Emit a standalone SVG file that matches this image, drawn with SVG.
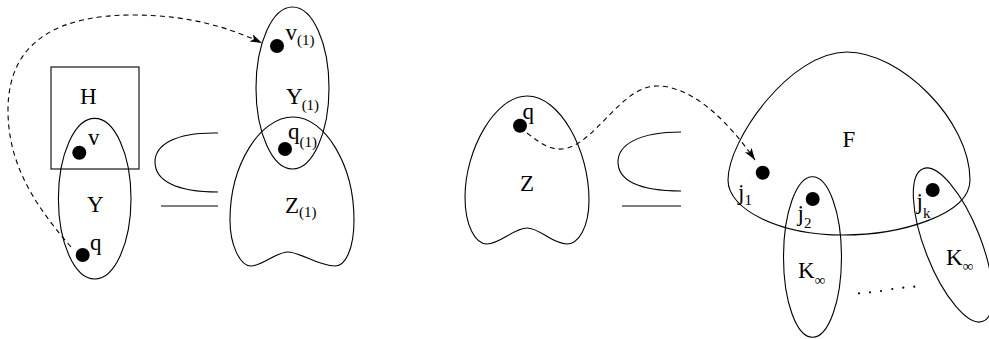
<svg xmlns="http://www.w3.org/2000/svg" width="989" height="339" viewBox="0 0 989 339">
<style>
.sh{fill:none;stroke:#000;stroke-width:1.1}
.dash{fill:none;stroke:#000;stroke-width:1.1;stroke-dasharray:5,4}
.dot{fill:#000}
.t{font-family:"Liberation Serif","Times New Roman",serif;font-size:23px;fill:#000}
.s{font-family:"Liberation Serif","Times New Roman",serif;font-size:15px;fill:#000}
</style>
<defs>
<marker id="arr" markerUnits="userSpaceOnUse" markerWidth="14" markerHeight="10" refX="12" refY="4" orient="auto">
<path d="M0,0 L12,4 L0,8 L3,4 Z" fill="#000" stroke="none"/>
</marker>
</defs>
<rect width="989" height="339" fill="#fff"/>

<g id="H">
<rect class="sh" x="51" y="67" width="88" height="102"/>
<text class="t" x="80" y="104">H</text>
</g>
<g id="Y">
<ellipse class="sh" cx="94.7" cy="198.7" rx="36.3" ry="80.3"/>
<text class="t" x="87" y="212">Y</text>
</g>
<g id="v">
<circle class="dot" cx="79.3" cy="152.7" r="7"/>
<text class="t" x="88" y="145">v</text>
</g>
<g id="q">
<circle class="dot" cx="82.7" cy="255" r="7"/>
<text class="t" x="90" y="250">q</text>
</g>
<g id="subset1">
<path class="sh" d="M218,133 C175,132 155,145 155,162 C155,180 175,192 218,192"/>
<path class="sh" d="M161,206 L218,206"/>
</g>
<g id="Z1">
<path class="sh" d="M293,117 C325,117 354,165 354,220 C354,250 345,266 335,266 C318,266 300,252 288,252 C276,252 262,266 251,266 C240,266 230,245 230,220 C230,165 260,117 293,117 Z"/>
<text class="t" x="285" y="213">Z<tspan class="s" dy="4">(1)</tspan></text>
</g>
<g id="Y1">
<ellipse class="sh" cx="292.5" cy="88" rx="36.5" ry="81"/>
<text class="t" x="286" y="103.5">Y<tspan class="s" dx="-1" dy="6">(1)</tspan></text>
</g>
<g id="v1">
<circle class="dot" cx="277" cy="46" r="7"/>
<text class="t" x="285.5" y="39.5">v<tspan class="s" dy="5">(1)</tspan></text>
</g>
<g id="q1">
<circle class="dot" cx="285" cy="149" r="7"/>
<text class="t" x="288" y="139">q<tspan class="s" dy="8">(1)</tspan></text>
</g>

<g id="Z">
<path class="sh" d="M527,96 C560,96 589,150 589,200 C589,228 578,244 567,244 C552,244 540,228 527,228 C514,228 500,244 487,244 C475,244 465,225 465,197 C465,150 495,96 527,96 Z"/>
<text class="t" x="520" y="191">Z</text>
</g>
<g id="qZ">
<circle class="dot" cx="520" cy="125.7" r="7"/>
<text class="t" x="522.5" y="119">q</text>
</g>
<g id="subset2">
<path class="sh" d="M681,132 C638,132 618,145 618,162 C618,180 638,191 681,191"/>
<path class="sh" d="M622,206 L681,206"/>
</g>
<g id="F">
<path class="sh" d="M847,52 C900,52 970,120 970,180 C970,215 900,235 843,235 C780,235 728,210 728,180 C728,140 790,52 847,52 Z"/>
<text class="t" x="842.5" y="147">F</text>
</g>
<g id="Kinf1">
<ellipse class="sh" cx="812.5" cy="257" rx="29" ry="80.3"/>
<text class="t" x="798" y="278">K<tspan class="s" font-size="16" dy="7">∞</tspan></text>
</g>
<g id="Kinf2">
<ellipse class="sh" cx="953" cy="245" rx="28" ry="82" transform="rotate(-21.4 953 245)"/>
<text class="t" x="946" y="265">K<tspan class="s" font-size="16" dy="6">∞</tspan></text>
</g>
<g id="j1">
<circle class="dot" cx="762.7" cy="172.7" r="7"/>
<text class="t" x="738" y="200">j<tspan class="s" dy="5">1</tspan></text>
</g>
<g id="j2">
<circle class="dot" cx="812.7" cy="199" r="7"/>
<text class="t" x="797.5" y="221">j<tspan class="s" dy="7">2</tspan></text>
</g>
<g id="jk">
<circle class="dot" cx="932.7" cy="190" r="7"/>
<text class="t" x="916.5" y="209">j<tspan class="s" dy="9">k</tspan></text>
</g>
<g id="ellipsis">
<circle class="dot" cx="859" cy="293.3" r="1.1"/>
<circle class="dot" cx="870" cy="292.3" r="1.1"/>
<circle class="dot" cx="881" cy="291" r="1.1"/>
<circle class="dot" cx="892.3" cy="289" r="1.1"/>
<circle class="dot" cx="903.3" cy="287.7" r="1.1"/>
<circle class="dot" cx="914.3" cy="286.7" r="1.1"/>
</g>

<g id="connectors">
<path class="dash" d="M71,247 C30,200 8,160 8,110 C8,40 60,15 133,15 C190,15 230,28 262,43" marker-end="url(#arr)"/>
<path class="dash" d="M527,133 C540,143 550,150 562,149 C595,146 620,86 657,86 C700,86 740,138 755,160" marker-end="url(#arr)"/>
</g>
</svg>
